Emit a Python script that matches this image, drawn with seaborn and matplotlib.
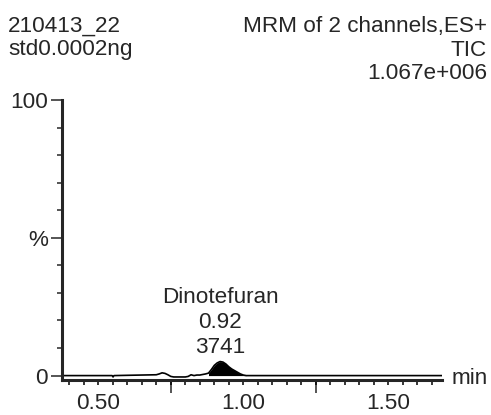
import numpy as np
import pandas as pd
import matplotlib
matplotlib.use("Agg")
import matplotlib.pyplot as plt
import seaborn as sns
from matplotlib.ticker import MultipleLocator

# Chromatogram trace (retention time in min, relative intensity in %)
rt_min = [0.375, 0.45, 0.50, 0.548, 0.551, 0.554, 0.60, 0.65, 0.70, 0.71,
          0.72, 0.73, 0.74, 0.75, 0.76, 0.78, 0.80, 0.81, 0.82, 0.83,
          0.84, 0.85, 0.86, 0.87, 0.88, 0.89, 0.90, 0.91, 0.92, 0.93,
          0.94, 0.95, 0.96, 0.97, 0.98, 0.99, 1.00, 1.01, 1.05, 1.20,
          1.40, 1.60, 1.685]
intensity_pct = [0.0, 0.0, 0.0, 0.0, -0.5, 0.0, 0.1, 0.2, 0.3, 0.6,
                 1.0, 0.8, 0.3, -0.3, -0.5, -0.5, -0.5, -0.3, 0.3, 0.0,
                 0.2, 0.2, 0.4, 0.6, 0.9, 2.2, 3.7, 4.6, 5.1, 4.9,
                 4.2, 3.2, 2.4, 1.8, 1.2, 0.6, 0.2, 0.0, 0.0, 0.0,
                 0.0, 0.0, 0.0]

peak_start, peak_end = 0.88, 1.01
compound = "Dinotefuran"
peak_rt = 0.92
peak_area = 3741

header_left = ["210413_22", "std0.0002ng"]
header_right = ["MRM of 2 channels,ES+", "TIC", "1.067e+006"]

x_ticks = [0.50, 1.00, 1.50]
x_tick_labels = ["0.50", "1.00", "1.50"]
y_ticks = [0, 50, 100]
y_tick_labels = ["0", "%", "100"]

df = pd.DataFrame({"rt": rt_min, "pct": intensity_pct})

sns.set_style("ticks")
plt.rcParams["font.family"] = ["Liberation Sans", "DejaVu Sans"]
FS = 16.2

W, H = 491, 415
fig = plt.figure(figsize=(W / 100, H / 100), dpi=100)
ax = fig.add_axes([62 / W, 1 - 380 / H, (442 - 62) / W, (380 - 100) / H])

sns.lineplot(data=df, x="rt", y="pct", ax=ax, color="black", linewidth=1.2,
             estimator=None, sort=False)
mask = (df["rt"] >= peak_start) & (df["rt"] <= peak_end)
ax.fill_between(df["rt"][mask], df["pct"][mask], 0, color="black", linewidth=0)

ax.set_xlim(0.375, 1.685)
ax.set_ylim(-1.6, 100)
ax.set_xlabel("")
ax.set_ylabel("")

for side in ("top", "right"):
    ax.spines[side].set_visible(False)
ax.spines["left"].set_linewidth(2.2)
ax.spines["bottom"].set_linewidth(2.2)

ax.set_xticks(x_ticks)
ax.set_xticklabels(x_tick_labels, fontsize=FS)
ax.xaxis.set_minor_locator(MultipleLocator(0.05))
ax.tick_params(axis="x", which="both", direction="out", length=3.8, width=1.1,
               pad=5.5, color="black")

ax.set_yticks(y_ticks)
ax.set_yticklabels(y_tick_labels, fontsize=FS)
ax.yaxis.set_minor_locator(MultipleLocator(10))
ax.tick_params(axis="y", which="major", length=8, width=1.1, pad=2)
ax.tick_params(axis="y", which="minor", length=3.8, width=1.1)

# longer ticks at the quarter minutes
sec = ax.secondary_xaxis("bottom")
sec.set_xticks([0.75, 1.25])
sec.set_xticklabels([])
sec.tick_params(axis="x", length=9.5, width=1.1)
sec.spines["bottom"].set_visible(False)

# peak label: name, retention time, area
peak_y = max(intensity_pct)
for i, s in enumerate([str(peak_area), f"{peak_rt:.2f}", compound]):
    ax.annotate(s, xy=(peak_rt, peak_y), xytext=(0, 6.5 + 17.8 * i),
                textcoords="offset points", ha="center", va="baseline",
                fontsize=FS)

fig.text(452 / W, 1 - 378 / H, "min", ha="left", va="center", fontsize=FS)

for i, s in enumerate(header_left):
    fig.text(8 / W, 1 - (32 + 23.5 * i) / H, s, ha="left", va="baseline",
             fontsize=FS)
for i, s in enumerate(header_right):
    fig.text(487 / W, 1 - (32 + 23.5 * i) / H, s, ha="right", va="baseline",
             fontsize=FS)

fig.savefig("out.png", dpi=100)
